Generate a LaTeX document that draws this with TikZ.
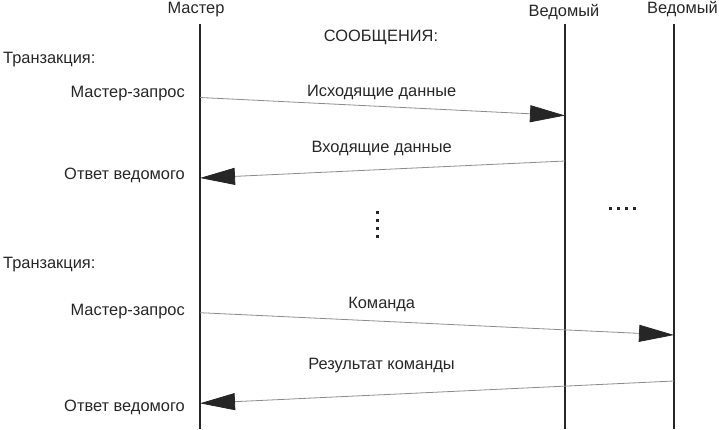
\documentclass[tikz,border=0pt]{standalone}
\usepackage{fontspec}
\setmainfont{Liberation Sans}
\usetikzlibrary{arrows.meta,positioning}

\begin{document}
\begin{tikzpicture}[x=1pt, y=-1pt,
  font=\fontsize{16.4}{19}\selectfont, text=black!85,
  lbl/.style={inner sep=0pt, anchor=base},
  side/.style={inner sep=0pt, anchor=base east},
  life/.style={line width=1.6pt, black!85},
  arrow/.style={-{Triangle[length=35pt, width=17pt, color=black!85, fill=black!85]},
  line width=0.8pt, black!45},
  blob/.style={fill=black!85, inner sep=0pt, minimum size=3pt}]
\useasboundingbox (0,0) rectangle (719,430);
\node[lbl] (master) at (196,13.3) {Мастер};
\node[lbl] (slaveA) at (564,16.7) {Ведомый};
\node[lbl] (slaveB) at (682.5,13.3) {Ведомый};
\node[lbl] (msgs) at (381,41.5) {СООБЩЕНИЯ:};
% lifelines
\coordinate (mtop) at (200,24);  \coordinate (mbot) at (200,429);
\coordinate (atop) at (565,24);  \coordinate (abot) at (565,429);
\coordinate (btop) at (674,24);  \coordinate (bbot) at (674,429);
\draw[life] (mtop) -- (mbot);
\draw[life] (atop) -- (abot);
\draw[life] (btop) -- (bbot);
% first transaction
\node[inner sep=0pt, anchor=base west] (trans1) at (3,63.3) {Транзакция:};
\node[side] (req1) at (185,97.5) {Мастер-запрос};
\node[side] (ans1) at (185,180) {Ответ ведомого};
\coordinate (m1) at (200,97.5); \coordinate (a1) at (565,115.5);
\coordinate (a2) at (565,161);  \coordinate (m2) at (200,178);
\draw[arrow] (m1) -- (a1);
\draw[arrow] (a2) -- (m2);
\node[lbl] (out) at (381.7,96.5) {Исходящие данные};
\node[lbl] (in) at (381.7,153) {Входящие данные};
% dots
\foreach \y in {212.7,220.7,228.7,236.7}
  \node[blob] at (377.7,\y) {};
\foreach \x in {610.7,618.7,626.7,634.7}
  \node[blob] at (\x,208.3) {};
% second transaction
\node[inner sep=0pt, anchor=base west] (trans2) at (3,268.3) {Транзакция:};
\node[side] (req2) at (185,315) {Мастер-запрос};
\node[side] (ans2) at (185,411) {Ответ ведомого};
\coordinate (m3) at (200,312.7); \coordinate (b1) at (674,335);
\coordinate (b2) at (674,381);   \coordinate (m4) at (200,403.3);
\draw[arrow] (m3) -- (b1);
\draw[arrow] (b2) -- (m4);
\node[lbl] (cmd) at (381.7,308.5) {Команда};
\node[lbl] (res) at (381.5,369.5) {Результат команды};
\end{tikzpicture}
\end{document}
